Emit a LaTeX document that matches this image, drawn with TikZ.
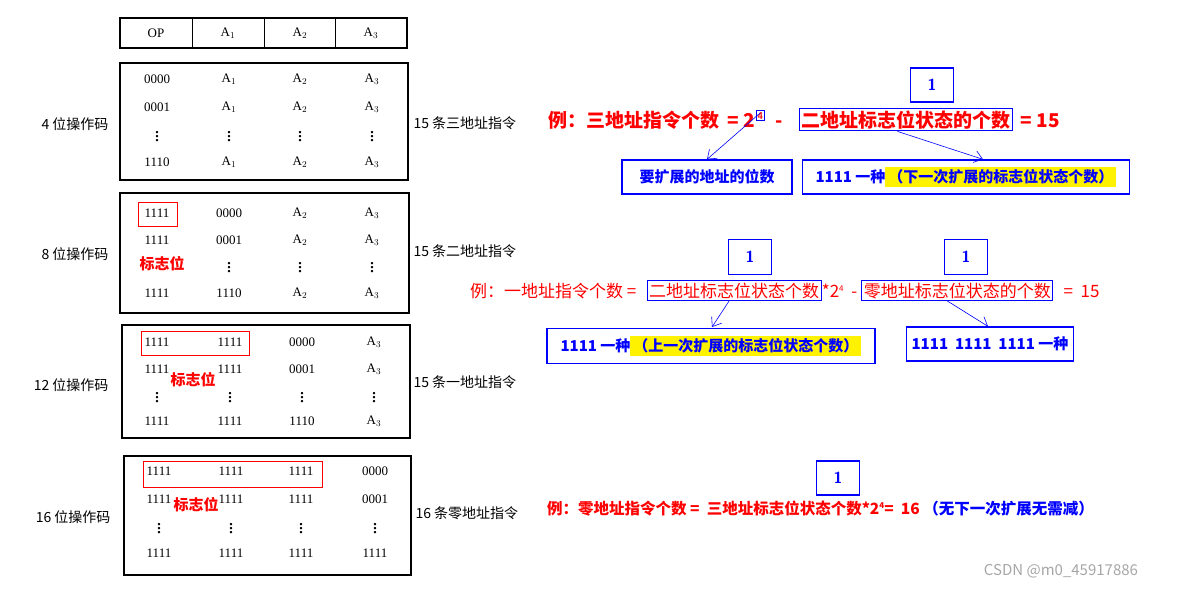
\documentclass[tikz,border=0pt]{standalone}
\usepackage{fontspec}
\usetikzlibrary{arrows.meta}
\newfontfamily\cjk{Noto Sans CJK SC}
\setmainfont{Liberation Serif}
\begin{document}
\begin{tikzpicture}[x=1pt,y=-1pt,
  tbl/.style={draw,line width=1.3pt},
  cell/.style={font=\fontsize{13}{13}\selectfont},
  vd/.style={font=\fontsize{20}{20}\selectfont},
  lab/.style={font=\cjk\fontsize{14}{14}\selectfont,anchor=west},
  redbox/.style={draw=red,line width=1pt},
  bluebox/.style={draw=blue,line width=1.3pt},
  red1/.style={text=red,font=\cjk\bfseries\fontsize{19}{19}\selectfont,anchor=base west,inner sep=0},
  red2/.style={text=red,font=\cjk\fontsize{17}{17}\selectfont,anchor=base west,inner sep=0},
  bl/.style={text=blue,font=\cjk\bfseries\fontsize{15}{15}\selectfont},
  one/.style={bl,bluebox,minimum width=43pt,minimum height=34pt,font=\sffamily\bfseries\fontsize{16}{16}\selectfont},
  arr/.style={draw=blue,-{Straight Barb[length=8pt,width=12pt]},line width=0.6pt}]
\useasboundingbox (0,0) rectangle (1179,590);
% header
\draw[tbl] (120,18) rectangle (407,48);
\foreach \x in {192,264,335} \draw[line width=1pt] (\x,18)--(\x,48);
\node[cell] (h0) at (156,33) {OP};
\node[cell] (h1) at (228,33) {A$_1$};
\node[cell] (h2) at (300,33) {A$_2$};
\node[cell] (h3) at (371,33) {A$_3$};
% boxes
\draw[tbl] (120,63) rectangle (408,180);
\draw[tbl] (120,193) rectangle (409,313);
\draw[tbl] (122,325) rectangle (410,438);
\draw[tbl] (124,456) rectangle (411,575);
% box1
\foreach \y/\c in {79/0000,107/0001,162/1110}{
 \node[cell] at (157,\y) {\c};
 \node[cell] at (229,\y) {A$_1$};
 \node[cell] at (300,\y) {A$_2$};
 \node[cell] at (372,\y) {A$_3$};}
\foreach \x in {157,229,300,372} \node[vd] at (\x,134) {$\vdots$};
% box2
\foreach \y/\c in {213/0000,240/0001,293/1110}{
 \node[cell] at (157,\y) {1111};
 \node[cell] at (229,\y) {\c};
 \node[cell] at (300,\y) {A$_2$};
 \node[cell] at (372,\y) {A$_3$};}
\foreach \x in {229,300,372} \node[vd] at (\x,265) {$\vdots$};
% box3
\foreach \y/\c in {342/0000,369/0001,421/1110}{
 \node[cell] at (157,\y) {1111};
 \node[cell] at (230,\y) {1111};
 \node[cell] at (302,\y) {\c};
 \node[cell] at (374,\y) {A$_3$};}
\foreach \x in {157,230,302,374} \node[vd] at (\x,395) {$\vdots$};
% box4
\foreach \y/\c in {471/0000,499/0001,553/1111}{
 \node[cell] at (159,\y) {1111};
 \node[cell] at (231,\y) {1111};
 \node[cell] at (301,\y) {1111};
 \node[cell] at (375,\y) {\c};}
\foreach \x in {159,231,301,375} \node[vd] at (\x,526) {$\vdots$};
% red boxes
\draw[redbox] (138,202) rectangle (177,226);
\draw[redbox] (141,331) rectangle (249,355);
\draw[redbox] (143,461) rectangle (322,487);
\node[text=red,font=\cjk\bfseries\fontsize{15}{15}\selectfont] (f1) at (162,264) {标志位};
\node[text=red,font=\cjk\bfseries\fontsize{15}{15}\selectfont] (f2) at (193,380) {标志位};
\node[text=red,font=\cjk\bfseries\fontsize{15}{15}\selectfont] (f3) at (196,505) {标志位};
% left labels
\node[lab,anchor=east] (l1) at (112,124) {4 位操作码};
\node[lab,anchor=east] (l2) at (112,254) {8 位操作码};
\node[lab,anchor=east] (l3) at (112,385) {12 位操作码};
\node[lab,anchor=east] (l4) at (114,517) {16 位操作码};
% right labels
\node[lab] (r1) at (410,123) {15 条三地址指令};
\node[lab] (r2) at (410,251) {15 条二地址指令};
\node[lab] (r3) at (410,382) {15 条一地址指令};
\node[lab] (r4) at (412,513) {16 条零地址指令};
% line 1
\node[red1] (e1) at (548,127) {例：三地址指令个数 \ = 2};
\node[red1,draw=blue,line width=0.8pt,inner sep=1.5pt,font=\sffamily\bfseries\fontsize{10}{10}\selectfont,anchor=base west] (sup1) at ([yshift=8pt]e1.base east) {4};
\node[red1] (m1) at ([xshift=10pt]e1.base east -| sup1.east) {-};
\node[red1,draw=blue,line width=1pt,inner sep=2pt,anchor=base west] (e1b) at ([xshift=16pt]m1.base east) {二地址标志位状态的个数};
\node[red1] (e1c) at ([xshift=8pt]e1b.base east) {= 15};
\node[one] (o1) at (932,85) {1};
\node[bl,bluebox,minimum width=170pt,minimum height=34pt,inner sep=1pt] (b1) at (707,177) {要扩展的地址的位数};
\node[bl,bluebox,minimum width=327pt,minimum height=34pt,inner sep=1pt] (b2) at (966,177) {1111 一种\colorbox{yellow}{（下一次扩展的标志位状态个数）}};
\draw[arr] (sup1.south) ++(0,-8) -- (b1.north);
\draw[arr] ([xshift=-8pt]e1b.south) -- ([xshift=17pt]b2.north);
% line 2
\node[red2] (e2) at (470,297) {例：一地址指令个数 = };
\node[red2,draw=blue,line width=1pt,inner sep=2pt] (e2b) at ([xshift=10pt]e2.base east) {二地址标志位状态个数};
\node[red2] (e2c) at (e2b.base east) {*2\raisebox{0.6ex}{\fontsize{8}{8}\selectfont 4} \ - };
\node[red2,draw=blue,line width=1pt,inner sep=2pt] (e2d) at ([xshift=4pt]e2c.base east) {零地址标志位状态的个数};
\node[red2] (e2e) at ([xshift=10pt]e2d.base east) {= \ 15};
\node[one,minimum height=35pt] (o2) at (750,257) {1};
\node[one,minimum height=35pt] (o3) at (966,257) {1};
\node[bl,bluebox,minimum width=328pt,minimum height=35pt,inner sep=1pt] (b3) at (711,346) {1111 一种\colorbox{yellow}{（上一次扩展的标志位状态个数）}};
\node[bl,bluebox,minimum width=167pt,minimum height=34pt,inner sep=1pt] (b4) at (990,344) {1111 \ 1111 \ 1111 一种};
\draw[arr] ([xshift=-5pt]e2b.south) -- (712,327);
\draw[arr] ([xshift=-10pt]e2d.south) -- ([xshift=-2pt]b4.north);
% line 3
\node[one] (o4) at (838,478) {1};
\node[red2,font=\cjk\bfseries\fontsize{15.5}{15.5}\selectfont] (e3) at (547,514) {例：零地址指令个数 = \ 三地址标志位状态个数*2\raisebox{0.6ex}{\fontsize{8}{8}\selectfont 4}= \ 16 \textcolor{blue}{（无下一次扩展无需减）}};
% watermark
\node[text=gray!70,font=\cjk\fontsize{15}{15}\selectfont] (wm) at (1061,571) {CSDN @m0\_45917886};
\end{tikzpicture}
\end{document}
